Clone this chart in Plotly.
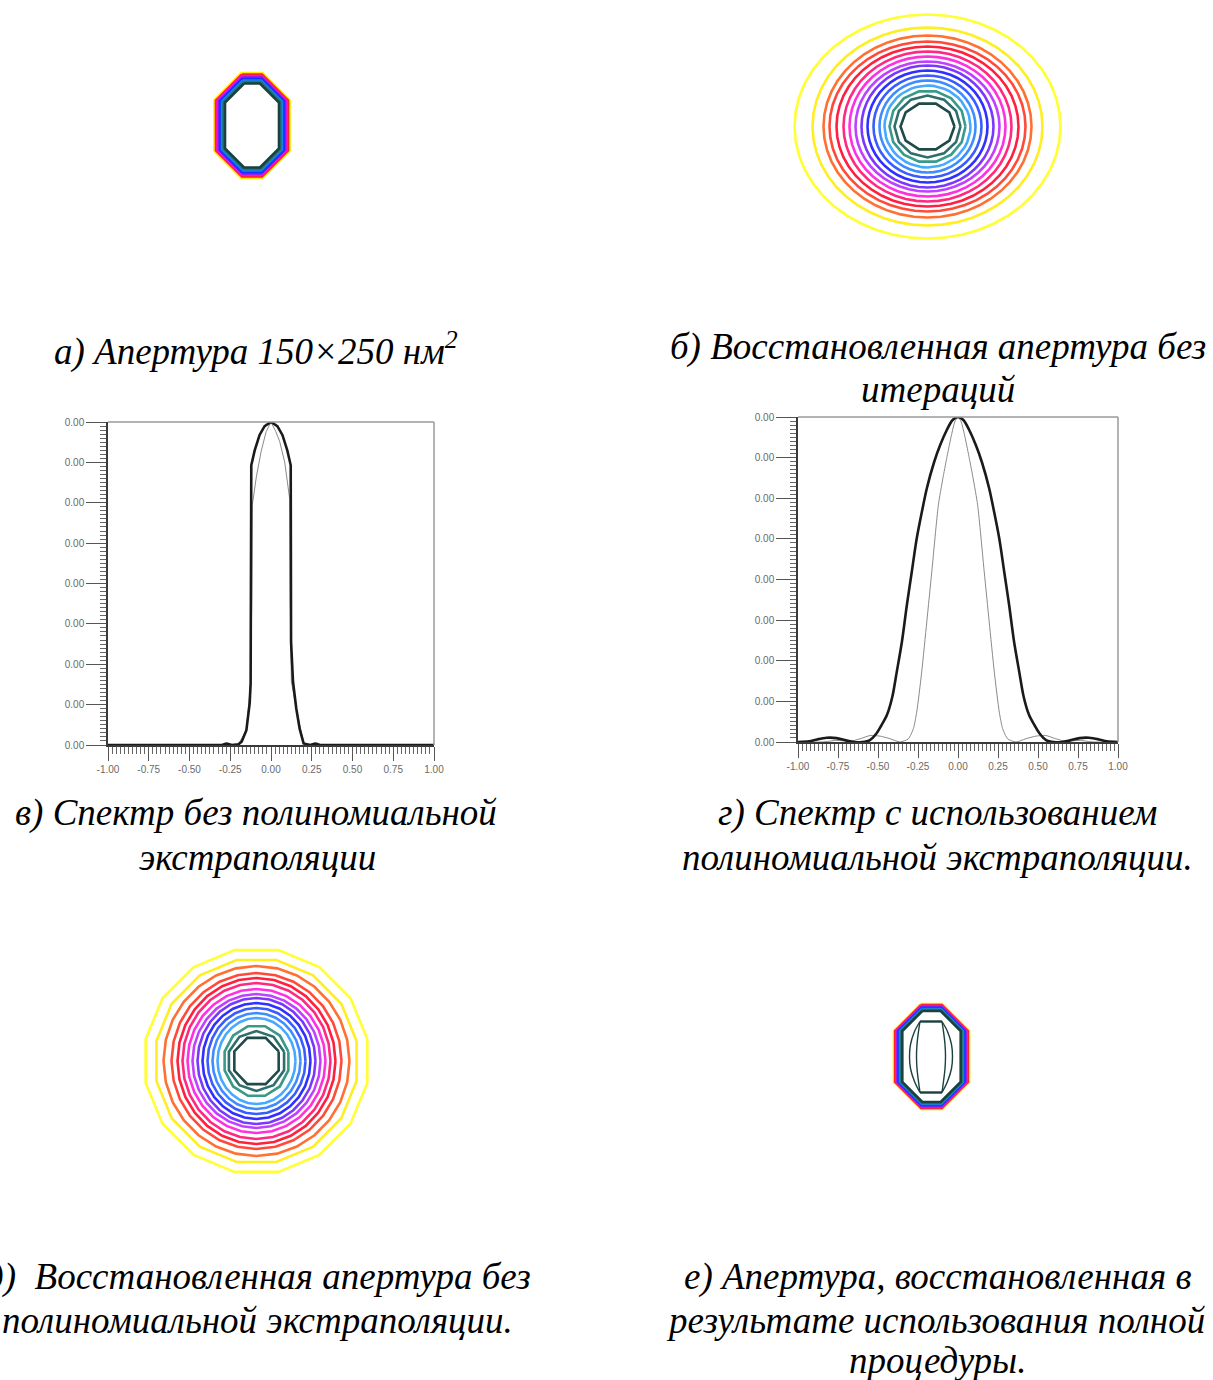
import numpy as np
import plotly.graph_objects as go

W, H = 1213, 1380

# ---------------- data ----------------
# panel a: aperture contours (octagonal rings), outer -> inner, half sizes in px units
a_hw = [37.5, 36.0, 34.5, 33.0, 31.5, 30.0, 28.5, 27.0]
a_hh = [52.5, 51.0, 49.5, 48.0, 46.5, 45.0, 43.5, 42.0]
a_ch = [27.0, 26.0, 24.5, 23.5, 22.0, 21.0, 20.0, 19.0]
a_colors = ['#ffee00', '#ff2020', '#ff10c8', '#7a20ff', '#1030ff', '#1880e8', '#207878', '#1a4040']

# panel b: restored aperture without iterations (elliptic rings)
b_hw = [133, 115, 104, 98, 91, 84, 78, 72, 66, 60, 54, 48, 43, 38, 33, 27]
b_hh = [112, 99, 91, 85, 80, 75, 70, 65, 61, 56, 51, 46, 41, 36, 31, 24]

# panel e: restored aperture without polynomial extrapolation
e_hw = [113, 102, 93, 85, 79, 74, 69, 64, 59, 54, 49, 44, 39, 33, 29, 24]
e_hh = [113, 103, 95, 88, 83, 78, 72, 67, 63, 58, 53, 48, 43, 36, 30, 25]

ring_colors = ['#ffff33', '#ffee22', '#ff7033', '#ff4a3a', '#ff2040', '#ff2a80',
               '#ff30e0', '#c040ff', '#7a38ff', '#3030ff', '#3a5cff', '#3f8cff',
               '#45aaff', '#3a9a8a', '#2f6e6a', '#1f4a4a']

# panel f: aperture after full procedure
f_hw = [37.5, 36.3, 35.1, 33.9, 32.7, 31.5, 30.3, 29.2]
f_hh = [52.5, 51.5, 50.5, 49.5, 48.5, 47.5, 46.5, 45.5]
f_ch = [27.0, 26.0, 25.0, 24.0, 23.0, 22.0, 21.0, 20.0]
f_colors = ['#ffee00', '#ff2020', '#ff10c8', '#7a20ff', '#1030ff', '#1880e8', '#207878', '#1a4040']
f_arc_y = [35, 25, 12, 0, -12, -25, -36]
f_arc_lo_x = [-11.5, -17, -21, -22, -21, -17, -11.5]
f_arc_li_x = [-11.5, -13, -14.5, -15, -14.5, -13, -11.5]
f_arc_ri_x = [10.5, 12, 13.5, 14, 13.5, 12, 10.5]
f_arc_ro_x = [10.5, 16, 20, 21, 20, 16, 10.5]
f_bar_x = [-11.5, 10.5]

# panel c: spectrum without polynomial extrapolation
c_x_thick = [-1.0, -0.30, -0.27, -0.24, -0.20, -0.18, -0.151, -0.131, -0.125, -0.122, -0.121, -0.10,
             -0.07, -0.039, 0.0, 0.039, 0.07, 0.10, 0.121, 0.122, 0.123, 0.135, 0.155, 0.176, 0.20,
             0.24, 0.27, 0.30, 1.0]
c_y_thick = [0.0, 0.0, 0.004, 0.0, 0.002, 0.01, 0.046, 0.129, 0.19, 0.5, 0.866, 0.912,
             0.96, 0.987, 1.0, 0.987, 0.96, 0.912, 0.866, 0.6, 0.32, 0.196, 0.113, 0.05, 0.005,
             0.0, 0.004, 0.0, 0.0]
c_x_thin = [-1.0, -0.31, -0.28, -0.25, -0.20, -0.151, -0.125, -0.118, -0.115, -0.09, -0.06, -0.03,
            0.0, 0.03, 0.053, 0.084, 0.115, 0.118, 0.125, 0.155, 0.20, 0.25, 0.28, 0.31, 1.0]
c_y_thin = [0.0, 0.0, 0.007, 0.0, 0.002, 0.046, 0.19, 0.45, 0.742, 0.83, 0.91, 0.97,
            1.0, 0.97, 0.94, 0.876, 0.76, 0.45, 0.196, 0.113, 0.005, 0.0, 0.007, 0.0, 0.0]

# panel d: spectrum with polynomial extrapolation
d_x_thick = [-1.0, -0.93, -0.88, -0.82, -0.76, -0.70, -0.65, -0.60, -0.55, -0.51, -0.48, -0.445,
             -0.41, -0.383, -0.35, -0.32, -0.29, -0.258, -0.225, -0.195, -0.15, -0.112, -0.07,
             -0.035, 0.0, 0.035, 0.07, 0.112, 0.15, 0.195, 0.225, 0.258, 0.29, 0.32, 0.35, 0.383,
             0.41, 0.445, 0.48, 0.51, 0.55, 0.60, 0.65, 0.70, 0.76, 0.82, 0.88, 0.93, 1.0]
d_y_thick = [0.0, 0.002, 0.008, 0.013, 0.012, 0.005, 0.0, 0.0, 0.006, 0.026, 0.05, 0.082,
             0.14, 0.215, 0.31, 0.42, 0.52, 0.626, 0.71, 0.78, 0.86, 0.913, 0.96,
             0.99, 1.0, 0.99, 0.96, 0.913, 0.86, 0.78, 0.71, 0.626, 0.52, 0.42, 0.31, 0.215,
             0.14, 0.082, 0.05, 0.026, 0.006, 0.0, 0.0, 0.005, 0.012, 0.013, 0.008, 0.002, 0.0]
d_x_thin = [-1.0, -0.85, -0.757, -0.674, -0.611, -0.549, -0.486, -0.424, -0.362, -0.31, -0.279,
            -0.258, -0.227, -0.195, -0.164, -0.123, -0.095, -0.071, -0.045, -0.02, 0.0, 0.02, 0.045,
            0.071, 0.095, 0.123, 0.164, 0.195, 0.227, 0.258, 0.279, 0.31, 0.362, 0.424, 0.486,
            0.549, 0.611, 0.674, 0.757, 0.85, 1.0]
d_y_thin = [0.0, 0.0, 0.005, 0.002, 0.01, 0.02, 0.018, 0.01, 0.0, 0.01, 0.041,
            0.092, 0.215, 0.37, 0.523, 0.728, 0.81, 0.872, 0.935, 0.985, 1.0, 0.985, 0.935,
            0.872, 0.81, 0.728, 0.523, 0.37, 0.215, 0.092, 0.041, 0.01, 0.0, 0.01, 0.018,
            0.02, 0.01, 0.002, 0.005, 0.0, 0.0]

x_tick_vals = [-1.0, -0.75, -0.5, -0.25, 0.0, 0.25, 0.5, 0.75, 1.0]
x_tick_text = ['-1.00', '-0.75', '-0.50', '-0.25', '0.00', '0.25', '0.50', '0.75', '1.00']
y_tick_vals = [0.0, 0.125, 0.25, 0.375, 0.5, 0.625, 0.75, 0.875, 1.0]
y_tick_text = ['0.00'] * 9

captions = [
    # (text, x px, y px, anchor) in page pixels
    ('а) Апертура 150×250 нм<sup>2</sup>', 256, 349, 'center'),
    ('б) Восстановленная апертура без', 938, 347, 'center'),
    ('итераций', 938, 390, 'center'),
    ('в) Спектр без полиномиальной', 256, 813, 'center'),
    ('экстраполяции', 257, 857, 'center'),
    ('г) Спектр с использованием', 937, 813, 'center'),
    ('полиномиальной экстраполяции.', 937, 857, 'center'),
    ('д)  Восстановленная апертура без', 533, 1277, 'right'),
    ('полиномиальной экстраполяции.', 515, 1320, 'right'),
    ('е) Апертура, восстановленная в', 937, 1277, 'center'),
    ('результате использования полной', 936, 1320, 'center'),
    ('процедуры.', 937, 1360, 'center'),
]


# ---------------- helpers ----------------
def octagon(hw, hh, c):
    xs = [-hw + c, hw - c, hw, hw, hw - c, -hw + c, -hw, -hw, -hw + c]
    ys = [hh, hh, hh - c, -hh + c, -hh, -hh, -hh + c, hh - c, hh]
    return xs, ys


def ngon(hw, hh, n, rot):
    t = np.deg2rad(rot) + 2 * np.pi * np.arange(n + 1) / n
    return list(hw * np.cos(t)), list(hh * np.sin(t))


def fx(px):
    return px / W


def fy(py):
    return 1 - py / H


fig = go.Figure()

# panel a
for hw, hh, ch, col in zip(a_hw, a_hh, a_ch, a_colors):
    xs, ys = octagon(hw, hh, ch)
    fig.add_trace(go.Scatter(x=xs, y=ys, mode='lines', line=dict(color=col, width=2.6),
                             xaxis='x', yaxis='y', hoverinfo='skip'))

# panel b
for i, (hw, hh) in enumerate(zip(b_hw, b_hh)):
    n = {15: 10, 14: 12, 13: 14}.get(i, 48)
    xs, ys = ngon(hw, hh, n, 0)
    fig.add_trace(go.Scatter(x=xs, y=ys, mode='lines', line=dict(color=ring_colors[i], width=2.6),
                             xaxis='x2', yaxis='y2', hoverinfo='skip'))

# panel c
fig.add_trace(go.Scatter(x=c_x_thin, y=c_y_thin, mode='lines', line=dict(color='#8a8a8a', width=1),
                         xaxis='x3', yaxis='y3', hoverinfo='skip'))
fig.add_trace(go.Scatter(x=c_x_thick, y=c_y_thick, mode='lines', line=dict(color='#1a1a1a', width=2.6),
                         xaxis='x3', yaxis='y3', hoverinfo='skip'))

# panel d
fig.add_trace(go.Scatter(x=d_x_thin, y=d_y_thin, mode='lines',
                         line=dict(color='#8a8a8a', width=1, shape='spline', smoothing=0.6),
                         xaxis='x4', yaxis='y4', hoverinfo='skip'))
fig.add_trace(go.Scatter(x=d_x_thick, y=d_y_thick, mode='lines',
                         line=dict(color='#1a1a1a', width=2.6, shape='spline', smoothing=0.8),
                         xaxis='x4', yaxis='y4', hoverinfo='skip'))

# panel e
for i, (hw, hh) in enumerate(zip(e_hw, e_hh)):
    n, rot = {15: (8, 22.5), 14: (10, 18), 13: (12, 15), 0: (16, 11.25), 1: (16, 11.25)}.get(i, (28, 0))
    xs, ys = ngon(hw, hh, n, rot)
    fig.add_trace(go.Scatter(x=xs, y=ys, mode='lines', line=dict(color=ring_colors[i], width=2.6),
                             xaxis='x5', yaxis='y5', hoverinfo='skip'))

# panel f
for hw, hh, ch, col in zip(f_hw, f_hh, f_ch, f_colors):
    xs, ys = octagon(hw, hh, ch)
    fig.add_trace(go.Scatter(x=xs, y=ys, mode='lines', line=dict(color=col, width=2.6),
                             xaxis='x6', yaxis='y6', hoverinfo='skip'))
for ax in (f_arc_lo_x, f_arc_li_x, f_arc_ri_x, f_arc_ro_x):
    fig.add_trace(go.Scatter(x=ax, y=f_arc_y, mode='lines', line=dict(color='#1a4040', width=1.4, shape='spline'),
                             xaxis='x6', yaxis='y6', hoverinfo='skip'))
for yb in (f_arc_y[0], f_arc_y[-1]):
    fig.add_trace(go.Scatter(x=f_bar_x, y=[yb, yb], mode='lines', line=dict(color='#1a4040', width=2.4),
                             xaxis='x6', yaxis='y6', hoverinfo='skip'))


def contour_axes(x0, x1, ytop, ybot, cx, cy):
    xa = dict(domain=[fx(x0), fx(x1)], range=[x0 - cx, x1 - cx], visible=False, fixedrange=True)
    ya = dict(domain=[fy(ybot), fy(ytop)], range=[cy - ybot, cy - ytop], visible=False, fixedrange=True)
    return xa, ya


xa1, ya1 = contour_axes(0, 606, 0, 300, 252, 125.5)
xa2, ya2 = contour_axes(606, 1213, 0, 300, 927.5, 126.5)
xa5, ya5 = contour_axes(0, 606, 900, 1230, 256.5, 1061)
xa6, ya6 = contour_axes(606, 1213, 900, 1230, 931.5, 1056.5)

tickfont = dict(family='Liberation Sans', size=10, color='#6a6a6a')
minor_x = np.round(np.arange(-1.0, 1.0001, 0.025), 4).tolist()
minor_y = np.round(np.arange(0.0, 1.0001, 0.0125), 5).tolist()


def spec_axes(x0, x1, ytop, ybot, anchor_x, anchor_y):
    xa = dict(domain=[fx(x0), fx(x1)], range=[-1, 1], anchor=anchor_y, automargin=False,
              showline=True, linecolor='#3a3a3a', linewidth=1.5, showgrid=False, zeroline=False,
              ticks='outside', ticklen=14, tickwidth=1, tickcolor='#555',
              tickmode='array', tickvals=x_tick_vals, ticktext=x_tick_text, tickfont=tickfont,
              minor=dict(ticks='outside', ticklen=7, tickwidth=1, tickcolor='#666',
                         tickmode='array', tickvals=minor_x, showgrid=False),
              fixedrange=True)
    ya = dict(domain=[fy(ybot), fy(ytop)], range=[0, 1], anchor=anchor_x, automargin=False,
              showline=True, linecolor='#3a3a3a', linewidth=1.5, showgrid=False, zeroline=False,
              ticks='outside', ticklen=20, tickwidth=1, tickcolor='#555',
              tickmode='array', tickvals=y_tick_vals, ticktext=y_tick_text, tickfont=tickfont,
              minor=dict(ticks='outside', ticklen=6, tickwidth=1, tickcolor='#666',
                         tickmode='array', tickvals=minor_y, showgrid=False),
              fixedrange=True)
    return xa, ya


xa3, ya3 = spec_axes(108, 434, 422, 745, 'x3', 'y3')
xa4, ya4 = spec_axes(798, 1118, 417, 742, 'x4', 'y4')

shapes = []
for ax in ('x3', 'x4'):
    ay = ax.replace('x', 'y')
    shapes.append(dict(type='line', xref=f'{ax} domain', yref=f'{ay} domain', x0=0, x1=1, y0=1, y1=1,
                       line=dict(color='#9a9a9a', width=1.5)))
    shapes.append(dict(type='line', xref=f'{ax} domain', yref=f'{ay} domain', x0=1, x1=1, y0=0, y1=1,
                       line=dict(color='#9a9a9a', width=1.5)))

annotations = []
for text, xp, yp, anc in captions:
    annotations.append(dict(text=text, x=fx(xp), y=fy(yp), xref='paper', yref='paper',
                            xanchor=anc, yanchor='middle', showarrow=False,
                            font=dict(family='Liberation Serif', size=37, color='#000', style='italic')))

fig.update_layout(
    width=W, height=H, margin=dict(l=0, r=0, t=0, b=0, pad=0, autoexpand=False),
    paper_bgcolor='white', plot_bgcolor='white', showlegend=False,
    xaxis=xa1, yaxis=ya1, xaxis2=xa2, yaxis2=ya2,
    xaxis3=xa3, yaxis3=ya3, xaxis4=xa4, yaxis4=ya4,
    xaxis5=xa5, yaxis5=ya5, xaxis6=xa6, yaxis6=ya6,
    shapes=shapes, annotations=annotations,
)

fig.write_html('out.html', config={'displayModeBar': False},
               post_script="document.body.style.margin='0';document.body.style.overflow='hidden';")
